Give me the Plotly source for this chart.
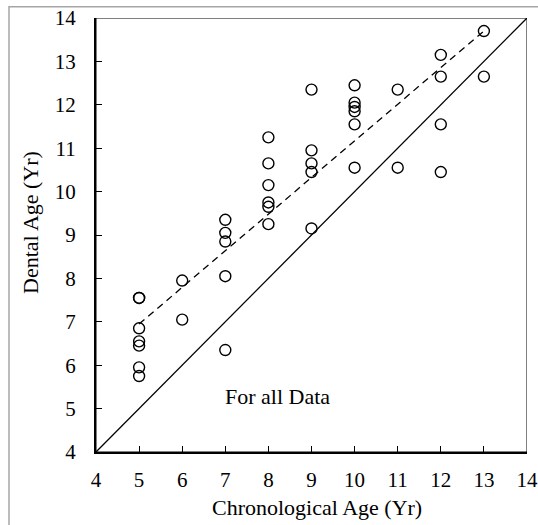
import plotly.graph_objects as go

# Data
chrono_age = [5, 5, 5, 5, 5, 5, 5,
              6, 6,
              7, 7, 7, 7, 7,
              8, 8, 8, 8, 8, 8,
              9, 9, 9, 9, 9,
              10, 10, 10, 10, 10, 10,
              11, 11,
              12, 12, 12, 12,
              13, 13]
dental_age = [7.55, 7.55, 6.85, 6.55, 6.45, 5.95, 5.75,
              7.95, 7.05,
              9.35, 9.05, 8.85, 8.05, 6.35,
              11.25, 10.65, 10.15, 9.75, 9.65, 9.25,
              12.35, 10.95, 10.65, 10.45, 9.15,
              12.45, 12.05, 11.95, 11.85, 11.55, 10.55,
              12.35, 10.55,
              13.15, 12.65, 11.55, 10.45,
              13.7, 12.65]

fit_x = [5, 13]
fit_y = [6.95, 13.7]
identity_x = [4, 14]
identity_y = [4, 14]
tick_vals = [4, 5, 6, 7, 8, 9, 10, 11, 12, 13, 14]
x_title = "Chronological Age (Yr)"
y_title = "Dental Age (Yr)"
annotation_text = "For all Data"

W, H = 538, 525
L, R, T, B = 96, 527, 18, 452  # plot area pixel box
pw, ph = R - L, B - T


def px(fx):
    return (fx - L) / pw


def py(fy):
    return (B - fy) / ph


FONT = "Liberation Serif, Times New Roman, serif"

fig = go.Figure()
fig.add_trace(go.Scatter(x=identity_x, y=identity_y, mode="lines",
                         line=dict(color="black", width=1.3), hoverinfo="skip"))
fig.add_trace(go.Scatter(x=fit_x, y=fit_y, mode="lines",
                         line=dict(color="black", width=1.3, dash="7px,5px"), hoverinfo="skip"))
fig.add_trace(go.Scatter(x=chrono_age, y=dental_age, mode="markers",
                         marker=dict(symbol="circle-open", size=11, color="black",
                                     line=dict(width=1.4, color="black"))))

axis_common = dict(
    range=[4, 14], tickvals=tick_vals, ticks="inside", ticklen=6, tickwidth=1.3,
    tickcolor="black", showline=True, linecolor="black", linewidth=2,
    showgrid=False, zeroline=False, tickfont=dict(family=FONT, size=21, color="black"),
)

fig.update_layout(
    width=W, height=H,
    margin=dict(l=L, r=W - R, t=T, b=H - B, autoexpand=False),
    paper_bgcolor="white", plot_bgcolor="white",
    showlegend=False,
    font=dict(family=FONT, color="black"),
    xaxis=dict(**axis_common, ticklabelstandoff=8),
    yaxis=dict(**axis_common, ticklabelstandoff=14),
)

# thin top/right frame
fig.add_shape(type="rect", xref="x", yref="y", x0=4, x1=14, y0=4, y1=14,
              line=dict(color="black", width=1), layer="above")

# outer light-grey border (only top and left edges fall inside the window)
fig.add_shape(type="rect", xref="paper", yref="paper",
              x0=px(9), x1=px(W + 10), y0=py(H + 10), y1=py(6.7),
              line=dict(color="#a6a6a6", width=1.5), fillcolor="rgba(0,0,0,0)",
              layer="above")

# axis titles
fig.add_annotation(x=px(317), y=py(508), xref="paper", yref="paper", text=x_title,
                   showarrow=False, font=dict(family=FONT, size=22, color="black"),
                   xanchor="center", yanchor="middle")
fig.add_annotation(x=px(30), y=py(223), xref="paper", yref="paper", text=y_title,
                   textangle=-90, showarrow=False,
                   font=dict(family=FONT, size=22, color="black"),
                   xanchor="center", yanchor="middle")

fig.add_annotation(x=8.2, y=5.27, xref="x", yref="y", text=annotation_text,
                   showarrow=False, font=dict(family=FONT, size=22, color="black"))

fig.write_html(
    "out.html",
    config={"displayModeBar": False},
    post_script="document.body.style.margin='0';document.body.style.overflow='hidden';",
)
